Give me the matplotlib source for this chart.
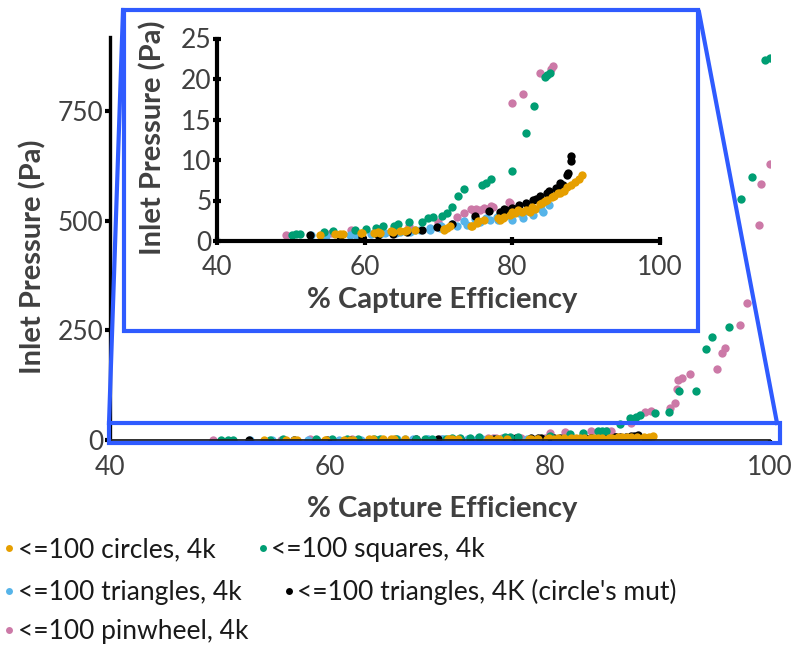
import matplotlib.pyplot as plt
from matplotlib.patches import Rectangle
from matplotlib.lines import Line2D

plt.rcParams['font.family'] = ['Lato', 'DejaVu Sans']

# ---- data ----
circles_x = [54.0, 56.0, 56.7, 57.0, 59.5, 59.6, 61.3, 61.8, 62.1, 63.5, 63.9, 64.8, 65.5, 65.8, 66.8,
             70.7, 70.8, 71.1, 71.6, 74.4, 74.5, 75.2, 75.4, 76.1, 78.1, 78.3, 78.8, 78.9, 79.7,
             79.9, 80.4, 80.7, 81.3, 81.9, 82.4, 82.7, 83.1, 83.7, 84.0, 84.4, 84.7, 85.4, 85.6,
             86.2, 86.5, 87.0, 87.4, 87.9, 88.5, 89.0, 89.4]
circles_y = [0.8, 0.9, 0.9, 0.9, 1.0, 0.95, 1.0, 1.1, 1.0, 1.2, 1.15, 1.2, 1.2, 1.3, 1.4,
             1.4, 1.5, 1.6, 1.9, 1.9, 1.85, 2.2, 2.5, 2.6, 2.8, 2.6, 2.8, 3.0, 3.2,
             3.6, 3.4, 3.8, 3.6, 3.8, 3.6, 4.2, 4.0, 4.6, 4.7, 5.0, 5.1, 5.4, 5.5,
             5.9, 5.9, 6.2, 6.7, 6.9, 7.3, 7.7, 8.1]

squares_x = [50.1, 50.7, 51.2, 54.5, 55.7, 58.7, 60.2, 61.5, 62.5, 64.0, 64.5, 66.0, 67.8, 68.6, 69.3,
             70.5, 71.1, 71.8, 72.7, 73.5, 75.9, 76.4, 77.1, 80.0, 81.8, 83.0, 84.4, 84.7, 85.1,
             86.4, 87.3, 87.8, 88.2, 89.5, 90.8, 91.7, 93.3, 94.2, 94.7, 96.3, 97.4, 98.4, 99.5, 100.0]
squares_y = [0.8, 0.9, 0.9, 1.1, 1.2, 1.3, 1.5, 1.6, 1.8, 1.9, 2.1, 2.3, 2.3, 2.8, 3.0,
             3.1, 3.5, 4.2, 5.5, 6.4, 6.9, 7.2, 7.7, 8.7, 13.3, 16.7, 20.3, 20.5, 20.8,
             36, 50, 53, 57, 61, 64, 112, 112, 207, 235, 258, 550, 600, 866, 871]

triangles_x = [52.7, 54.7, 56.7, 58.0, 58.8, 60.8, 62.1, 62.8, 64.3, 64.8, 66.1, 66.8, 67.5, 68.8,
               68.9, 70.2, 70.3, 71.8, 72.5, 73.4, 73.8, 74.9, 75.6, 76.4, 77.0, 77.9, 78.1,
               79.4, 79.9, 80.9, 81.5, 81.9, 82.8, 83.9, 84.2, 84.9]
triangles_y = [0.7, 0.6, 0.7, 0.75, 0.8, 0.9, 0.9, 1.0, 1.0, 1.1, 1.15, 1.3, 1.4, 1.6,
               1.4, 1.6, 1.8, 2.1, 1.85, 2.5, 2.0, 2.75, 2.4, 2.8, 2.6, 3.0, 2.6,
               3.2, 2.6, 3.4, 2.8, 3.7, 3.2, 4.0, 3.6, 4.4]

mut_x = [52.6, 56.7, 59.7, 61.8, 63.8, 65.8, 67.8, 69.8, 71.8, 74.9, 76.9, 78.3, 78.9, 79.2, 79.9,
         80.4, 80.9, 81.9, 82.8, 83.2, 83.7, 84.7, 84.9, 85.9, 86.0, 86.4, 86.9, 87.4, 87.6,
         87.9, 88.0]
mut_y = [0.8, 0.6, 0.5, 0.7, 0.9, 1.1, 1.3, 1.7, 2.1, 3.1, 3.7, 3.6, 3.9, 3.8, 4.1,
         4.0, 4.4, 4.7, 5.1, 5.2, 5.5, 5.9, 6.2, 6.6, 6.3, 7.1, 6.9, 8.1, 8.4,
         9.9, 10.5]

pinwheel_x = [49.4, 55.5, 58.2, 62.0, 66.0, 70.0, 72.5, 73.5, 74.4, 74.8, 75.1, 75.6, 76.1, 76.5,
              77.1, 77.4, 79.5, 79.7, 80.0, 81.4, 83.7, 85.2, 85.5, 87.4, 88.6, 89.2, 90.9,
              91.4, 91.5, 91.6, 92.0, 92.7, 95.2, 95.6, 95.9, 97.3, 97.9, 99.0, 99.2, 100.0]
pinwheel_y = [0.8, 1.0, 1.4, 1.5, 1.9, 2.4, 3.0, 3.5, 3.9, 3.7, 4.0, 3.8, 4.1, 3.9,
              4.3, 4.2, 4.8, 4.7, 17.0, 18.2, 20.7, 21.2, 21.6, 38, 64, 65, 72,
              84, 116, 137, 141, 150, 162, 198, 209, 261, 313, 489, 584, 629]

labels = ['<=100 circles, 4k', '<=100 squares, 4k', '<=100 triangles, 4k',
          "<=100 triangles, 4K (circle's mut)", '<=100 pinwheel, 4k']
colors = ['#E69F00', '#009E73', '#56B4E9', '#000000', '#CC79A7']

series = [(pinwheel_x, pinwheel_y, colors[4]),
          (triangles_x, triangles_y, colors[2]),
          (mut_x, mut_y, colors[3]),
          (squares_x, squares_y, colors[1]),
          (circles_x, circles_y, colors[0])]

W, H = 799, 648
BLUE = '#2F5BFF'
GREY = '#404040'
TICK_FS = 19
LAB_FS = 21


def fx(px):
    return px / W


def fy(py):
    return 1 - py / H


fig = plt.figure(figsize=(W / 100, H / 100), dpi=100)

# ---- main axes ----
ax = fig.add_axes([fx(110), fy(440), (770 - 110) / W, (440 - 36.7) / H])
for x, y, c in series:
    ax.scatter(x, y, s=36, color=c, linewidths=0)
ax.set_xlim(40, 100)
ax.set_ylim(0, 919)
ax.set_xticks([40, 60, 80, 100])
ax.set_yticks([0, 250, 500, 750])
for s in ['top', 'right']:
    ax.spines[s].set_visible(False)
ax.spines['left'].set_linewidth(2.4)
ax.spines['bottom'].set_linewidth(1.3)
ax.spines['bottom'].set_color('#202020')
ax.tick_params(axis='both', direction='out', length=3.5, width=3, color='black',
               labelsize=TICK_FS, labelcolor=GREY)
ax.tick_params(axis='x', pad=7)
ax.tick_params(axis='y', pad=1)
ax.set_xlabel('% Capture Efficiency', fontsize=LAB_FS, fontweight='bold', color=GREY)
ax.set_ylabel('Inlet Pressure (Pa)', fontsize=LAB_FS, fontweight='bold', color=GREY)
ax.xaxis.set_label_coords(0.503, -0.138)
ax.yaxis.set_label_coords(-0.097, 0.454)

# ---- zoom box, connectors, inset frame ----
fig.add_artist(Rectangle((fx(109), fy(443)), (780 - 109) / W, (443 - 423) / H,
                         transform=fig.transFigure, fill=False, edgecolor=BLUE, lw=3, zorder=3))
fig.add_artist(Line2D([fx(123), fx(109)], [fy(10), fy(423)], transform=fig.transFigure,
                      color=BLUE, lw=3, zorder=3))
fig.add_artist(Line2D([fx(699), fx(777)], [fy(12), fy(423)], transform=fig.transFigure,
                      color=BLUE, lw=3, zorder=3))
fig.add_artist(Rectangle((fx(124), fy(331)), (698 - 124) / W, (331 - 10) / H,
                         transform=fig.transFigure, facecolor='white', edgecolor=BLUE,
                         lw=3, zorder=4))

# ---- inset axes ----
axi = fig.add_axes([fx(217), fy(241), (660 - 217) / W, (241 - 38.5) / H], zorder=5)
axi.set_facecolor('none')
for x, y, c in series:
    axi.scatter(x, y, s=36, color=c, linewidths=0)
axi.set_xlim(40, 100)
axi.set_ylim(0, 25)
axi.set_xticks([40, 60, 80, 100])
axi.set_yticks([0, 5, 10, 15, 20, 25])
for s in ['top', 'right']:
    axi.spines[s].set_visible(False)
for s in ['left', 'bottom']:
    axi.spines[s].set_linewidth(3)
    axi.spines[s].set_color('black')
axi.tick_params(axis='both', direction='inout', length=6, width=3, color='black',
                labelsize=TICK_FS, labelcolor=GREY)
axi.tick_params(axis='x', pad=7)
axi.tick_params(axis='y', pad=1)
axi.set_xlabel('% Capture Efficiency', fontsize=LAB_FS, fontweight='bold', color=GREY)
axi.set_ylabel('Inlet Pressure (Pa)', fontsize=LAB_FS, fontweight='bold', color=GREY)
axi.xaxis.set_label_coords(0.508, -0.228)
axi.yaxis.set_label_coords(-0.115, 0.509)

# ---- legend (three rows, Excel-style flow) ----
def handle(c):
    return Line2D([], [], ls='none', marker='o', markersize=5, color=c, markeredgewidth=0)

rows = [([0, 1], 550), ([2, 3], 592), ([4], 632)]
for idx, py in rows:
    fig.legend([handle(colors[i]) for i in idx], [labels[i] for i in idx],
               loc='center left', bbox_to_anchor=(fx(4), fy(py)), ncol=2, frameon=False,
               fontsize=19, handlelength=0.4, handletextpad=0.12, columnspacing=1.6,
               borderpad=0, borderaxespad=0, labelcolor='#1a1a1a')

fig.savefig('out.png', dpi=100)
